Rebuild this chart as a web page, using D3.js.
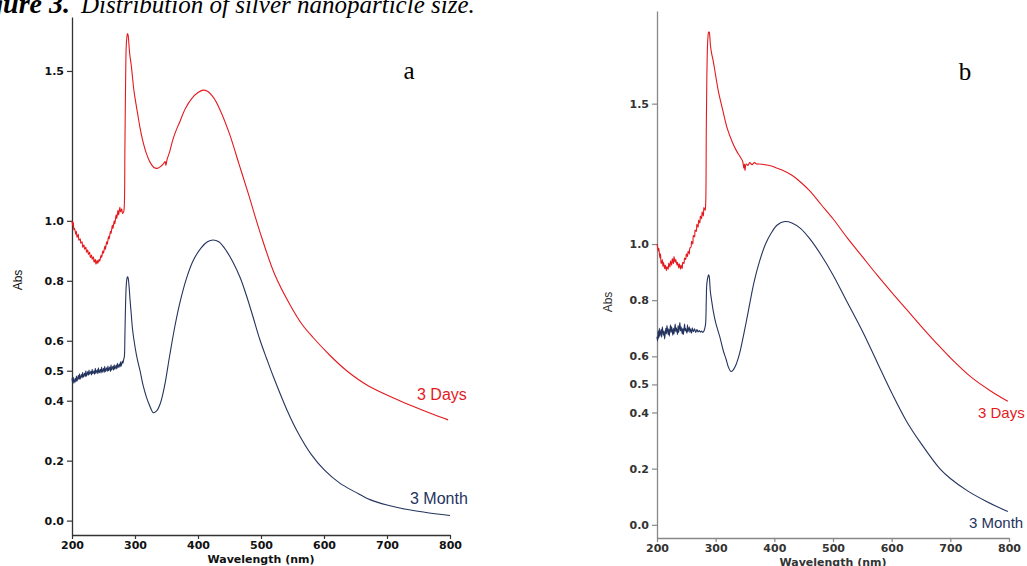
<!DOCTYPE html>
<html>
<head>
<meta charset="utf-8">
<script src="https://d3js.org/d3.v7.min.js"></script>
<style>
  body { margin: 0; background: #fff; }
  .tick text { font-family: "DejaVu Sans", sans-serif; font-weight: bold; font-size: 11px; }
  .axis-title { font-family: "DejaVu Sans", sans-serif; font-weight: bold; font-size: 11px; }
  .abs { font-family: "Liberation Sans", Arial, sans-serif; font-size: 12px; }
  .series-label { font-family: "Liberation Sans", Arial, sans-serif; font-size: 16px; }
  .panel-letter { font-family: "Liberation Serif", serif; font-size: 25px; }
  .caption { font-family: "Liberation Serif", serif; font-style: italic; font-size: 25px; }
</style>
</head>
<body>
<script>
// wavelength (nm), absorbance
const xTicks = [200, 300, 400, 500, 600, 700, 800];
const yTicks = [0.0, 0.2, 0.4, 0.5, 0.6, 0.8, 1.0, 1.5];
const seriesNames = ["3 Days", "3 Month"];

// panel a, 3 Days
const daysA = [
  [200,1.00],[201,0.985],[202,0.995],[203,0.97],[204,0.975],[206,0.955],[207,0.965],[208,0.945],
  [210,0.955],[211,0.935],[213,0.94],[214,0.925],[216,0.93],[217,0.912],[219,0.92],[220,0.905],
  [222,0.912],[223,0.895],[225,0.903],[226,0.888],[228,0.895],[229,0.878],[231,0.886],[232,0.872],
  [234,0.88],[235,0.862],[237,0.872],[238,0.855],[240,0.868],[241,0.858],[243,0.872],[244,0.865],
  [246,0.885],[247,0.878],[249,0.9],[250,0.892],[252,0.915],[253,0.905],[255,0.93],[256,0.922],
  [258,0.948],[259,0.94],[261,0.965],[262,0.958],[264,0.985],[265,0.975],[267,1.0],[268,0.99],
  [270,1.02],[271,1.008],[273,1.035],[274,1.02],[276,1.045],[277,1.03],[279,1.04],[280,1.025],
  [282,1.03],[283,1.05],[284,1.25],[285,1.45],[286,1.58],[287,1.61],[288,1.625],[289,1.62],
  [290,1.60],[291,1.57],[292,1.55],[294,1.52],[296,1.48],[298,1.44],[300,1.41],[304,1.36],
  [308,1.31],[312,1.27],[318,1.225],[324,1.195],[330,1.178],[335,1.175],[340,1.18],[345,1.19],
  [348,1.198],[349,1.185],[351,1.205],[355,1.23],[360,1.27],[365,1.30],[371,1.33],[380,1.375],
  [390,1.408],[400,1.428],[408,1.436],[415,1.432],[425,1.41],[435,1.37],[450,1.29],[465,1.19],
  [480,1.09],[498,0.965],[522,0.82],[546,0.72],[565,0.655],[583,0.61],[610,0.55],[636,0.50],
  [670,0.45],[715,0.405],[745,0.378],[770,0.357],[797,0.336]
];

// panel a, 3 Month
const monthA = [
  [200,0.475],[201,0.46],[202,0.478],[203,0.458],[205,0.475],[206,0.462],[207,0.482],[208,0.465],
  [210,0.485],[211,0.47],[212,0.49],[213,0.472],[215,0.488],[216,0.476],[217,0.495],[218,0.478],
  [220,0.492],[221,0.48],[222,0.5],[223,0.482],[225,0.497],[226,0.485],[227,0.502],[228,0.488],
  [230,0.498],[231,0.486],[232,0.505],[233,0.49],[235,0.5],[236,0.488],[237,0.508],[238,0.492],
  [240,0.503],[241,0.49],[242,0.51],[243,0.493],[245,0.505],[246,0.492],[247,0.512],[248,0.495],
  [250,0.508],[251,0.494],[252,0.515],[253,0.497],[255,0.51],[256,0.498],[257,0.516],[258,0.5],
  [260,0.512],[261,0.498],[262,0.52],[263,0.502],[265,0.515],[266,0.502],[267,0.52],[268,0.505],
  [270,0.518],[271,0.506],[272,0.525],[273,0.51],[275,0.522],[276,0.512],[277,0.53],[278,0.515],
  [280,0.532],[281,0.525],[282,0.538],[283,0.545],[284,0.62],[285,0.72],[286,0.78],[287,0.805],
  [288,0.813],[289,0.81],[290,0.795],[291,0.77],[292,0.74],[294,0.69],[296,0.64],[300,0.58],
  [304,0.535],[308,0.50],[313,0.45],[318,0.413],[323,0.385],[329,0.36],[334,0.365],[340,0.39],
  [347,0.45],[355,0.55],[363,0.645],[371,0.725],[382,0.81],[393,0.87],[405,0.91],[415,0.93],
  [424,0.936],[433,0.93],[445,0.90],[456,0.86],[467,0.81],[477,0.75],[488,0.675],[498,0.605],
  [509,0.54],[520,0.478],[541,0.37],[557,0.30],[580,0.22],[600,0.17],[625,0.125],[650,0.095],
  [673,0.07],[700,0.052],[730,0.038],[760,0.028],[800,0.017]
];

// panel b, 3 Days
const daysB = [
  [200,1.0],[201,0.99],[202,0.975],[203,0.985],[205,0.95],[206,0.965],[207,0.93],[209,0.945],
  [210,0.92],[211,0.935],[213,0.912],[214,0.925],[216,0.905],[217,0.92],[219,0.91],[220,0.932],
  [222,0.918],[223,0.94],[225,0.925],[226,0.948],[228,0.93],[229,0.955],[231,0.935],[232,0.945],
  [234,0.925],[235,0.935],[237,0.915],[238,0.93],[240,0.91],[241,0.925],[243,0.912],[244,0.935],
  [246,0.93],[247,0.95],[249,0.945],[250,0.965],[252,0.955],[253,0.975],[255,0.965],[256,0.985],
  [258,0.99],[259,1.01],[261,1.0],[262,1.03],[264,1.025],[265,1.05],[267,1.045],[268,1.07],
  [270,1.06],[271,1.085],[273,1.075],[274,1.1],[276,1.09],[277,1.115],[279,1.1],[280,1.13],
  [282,1.12],[283,1.145],[284,1.4],[285,1.6],[286,1.7],[287,1.74],[288,1.755],[289,1.755],
  [290,1.74],[291,1.71],[293,1.68],[296,1.65],[300,1.60],[305,1.54],[312,1.478],[320,1.41],
  [329,1.36],[336,1.33],[342,1.31],[346,1.295],[348,1.27],[349,1.285],[350,1.262],[352,1.285],
  [355,1.28],[358,1.29],[362,1.283],[366,1.29],[370,1.285],[375,1.285],[385,1.282],[395,1.278],
  [405,1.27],[415,1.262],[430,1.245],[445,1.22],[460,1.19],[480,1.14],[500,1.09],[525,1.02],
  [550,0.955],[575,0.89],[600,0.828],[625,0.768],[650,0.708],[675,0.65],[700,0.595],[736,0.525],
  [770,0.475],[798,0.44]
];

// panel b, 3 Month
const monthB = [
  [200,0.67],[201,0.655],[202,0.69],[203,0.665],[204,0.70],[205,0.672],[207,0.695],[208,0.668],
  [209,0.705],[211,0.675],[212,0.69],[213,0.662],[215,0.70],[216,0.68],[217,0.71],[219,0.678],
  [220,0.698],[221,0.672],[223,0.712],[224,0.685],[225,0.705],[227,0.675],[228,0.70],[229,0.68],
  [231,0.715],[232,0.688],[233,0.702],[235,0.678],[236,0.71],[237,0.685],[239,0.72],[240,0.69],
  [241,0.705],[243,0.68],[244,0.70],[245,0.678],[247,0.715],[248,0.69],[249,0.70],[251,0.682],
  [252,0.712],[253,0.688],[255,0.705],[256,0.685],[257,0.698],[259,0.682],[260,0.702],[262,0.688],
  [264,0.698],[266,0.685],[268,0.695],[270,0.687],[272,0.692],[274,0.686],[276,0.69],[278,0.685],
  [280,0.69],[282,0.705],[283,0.72],[284,0.80],[285,0.86],[287,0.885],[288,0.89],[289,0.885],
  [290,0.86],[291,0.83],[293,0.80],[296,0.76],[300,0.72],[307,0.67],[313,0.62],[318,0.588],
  [322,0.56],[326,0.546],[330,0.552],[335,0.572],[341,0.612],[348,0.68],[355,0.754],[361,0.82],
  [366,0.87],[375,0.94],[385,1.0],[395,1.04],[405,1.068],[418,1.08],[430,1.075],[445,1.055],
  [460,1.02],[480,0.96],[500,0.89],[525,0.79],[550,0.69],[575,0.58],[600,0.47],[625,0.37],
  [650,0.29],[682,0.20],[700,0.165],[730,0.12],[760,0.085],[798,0.047]
];

const W = 1027, H = 566;
const red = "#e3191e", navy = "#25345e";

const svg = d3.select("body").append("svg")
  .attr("width", W)
  .attr("height", H)
  .style("display", "block");

// caption, cut off at the top-left like the source
svg.append("text")
  .attr("class", "caption")
  .attr("x", 70).attr("y", 13)
  .attr("text-anchor", "end")
  .style("font-weight", "bold")
  .style("font-size", "28px")
  .text("Figure 3.");
svg.append("text")
  .attr("class", "caption")
  .attr("x", 81).attr("y", 13)
  .text("Distribution of silver nanoparticle size.");

// one panel per spectrum pair
const panels = [
  { letter: "a", days: daysA, month: monthA, xr: [72, 450], yDom: [-0.048, 1.68], yr: [535, 17],
    axisColor: "#333", textColor: "#111", letterPos: [409, 79], absPos: [18, 280],
    daysLbl: [417, 400], monthLbl: [410, 504], lblSize: 16 },
  { letter: "b", days: daysB, month: monthB, xr: [657, 1009], yDom: [-0.047, 1.83], yr: [538, 11],
    axisColor: "#888", textColor: "#333", letterPos: [965, 80], absPos: [608, 302],
    daysLbl: [978, 418], monthLbl: [969, 528], lblSize: 15 }
];

panels.forEach(p => {
  const x = d3.scaleLinear().domain([200, 800]).range(p.xr);
  const y = d3.scaleLinear().domain(p.yDom).range(p.yr);
  const g = svg.append("g");

  const xAxis = g.append("g")
    .attr("transform", "translate(0," + p.yr[0] + ")")
    .call(d3.axisBottom(x).tickValues(xTicks).tickSize(4).tickSizeOuter(0).tickPadding(2));
  const yAxis = g.append("g")
    .attr("transform", "translate(" + p.xr[0] + ",0)")
    .call(d3.axisLeft(y).tickValues(yTicks).tickFormat(d3.format(".1f")).tickSize(5).tickSizeOuter(0).tickPadding(3));

  [xAxis, yAxis].forEach(ax => {
    ax.select(".domain").attr("stroke", p.axisColor).attr("stroke-width", 1.3);
    ax.selectAll(".tick line").attr("stroke", p.axisColor).attr("stroke-width", 1.2);
    ax.selectAll(".tick text").attr("fill", p.textColor);
  });

  g.append("text")
    .attr("class", "axis-title")
    .attr("x", x(500)).attr("y", p.yr[0] + 28)
    .attr("text-anchor", "middle")
    .attr("fill", p.textColor)
    .text("Wavelength (nm)");

  g.append("text")
    .attr("class", "abs")
    .attr("transform", "translate(" + p.absPos[0] + "," + p.absPos[1] + ") rotate(-90)")
    .attr("text-anchor", "middle")
    .attr("dy", "0.35em")
    .attr("fill", p.textColor)
    .text("Abs");

  const line = d3.line()
    .x(d => x(d[0]))
    .y(d => y(d[1]))
    .curve(d3.curveCatmullRom.alpha(0.5));

  g.append("path").datum(p.days)
    .attr("d", line).attr("fill", "none")
    .attr("stroke", red).attr("stroke-width", 1.1);
  g.append("path").datum(p.month)
    .attr("d", line).attr("fill", "none")
    .attr("stroke", navy).attr("stroke-width", 1.1);

  g.append("text")
    .attr("class", "series-label")
    .attr("x", p.daysLbl[0]).attr("y", p.daysLbl[1])
    .style("font-size", p.lblSize + "px")
    .attr("fill", red)
    .text(seriesNames[0]);
  g.append("text")
    .attr("class", "series-label")
    .attr("x", p.monthLbl[0]).attr("y", p.monthLbl[1])
    .style("font-size", p.lblSize + "px")
    .attr("fill", navy)
    .text(seriesNames[1]);

  g.append("text")
    .attr("class", "panel-letter")
    .attr("x", p.letterPos[0]).attr("y", p.letterPos[1])
    .attr("text-anchor", "middle")
    .text(p.letter);
});
</script>
</body>
</html>
